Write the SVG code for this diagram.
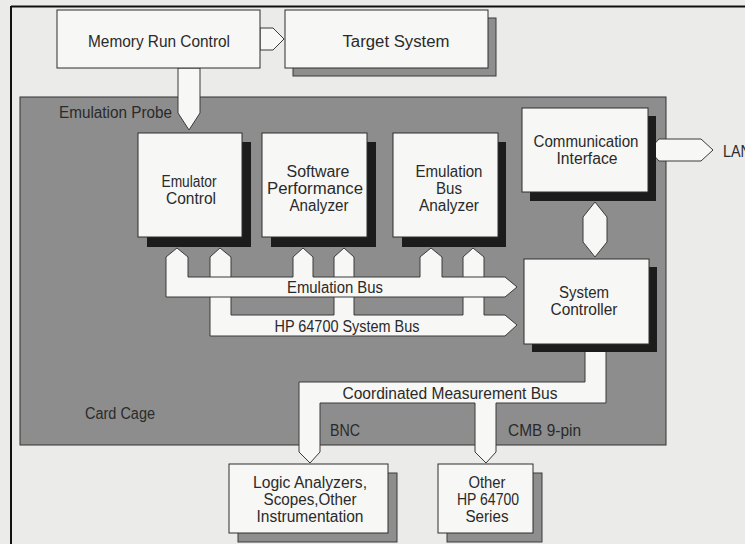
<svg xmlns="http://www.w3.org/2000/svg" width="745" height="544" viewBox="0 0 745 544">
<style>
text{font-family:"Liberation Sans",Arial,sans-serif;font-size:16px;fill:#2a2a2a;text-anchor:middle}
.lbl{text-anchor:start}
.box{fill:#f7f7f5;stroke:#2e2e2e;stroke-width:1}
.sh{fill:#1c1c1c}
.gsh{fill:#8e8e8e;stroke:#3a3a3a;stroke-width:1}
.bus{fill:#f7f7f5;stroke:#3a3a3a;stroke-width:1;stroke-linejoin:miter}
</style>
<rect x="0" y="0" width="745" height="544" fill="#ebebea"/>
<line x1="11" y1="6.5" x2="745" y2="6.5" stroke="#111" stroke-width="2"/>
<line x1="11" y1="6" x2="11" y2="544" stroke="#111" stroke-width="2"/>

<g id="card-cage">
<rect x="20" y="97" width="646" height="348" fill="#8d8d8d" stroke="#333" stroke-width="1"/>
<text class="lbl" x="59" y="118" textLength="113" lengthAdjust="spacingAndGlyphs">Emulation Probe</text>
<text class="lbl" x="85" y="419" textLength="70" lengthAdjust="spacingAndGlyphs">Card Cage</text>
</g>

<g id="connectors">
<polygon class="bus" points="260,28 273,28 284,39 273,50 260,50"/>
<polygon class="bus" points="178,68 200,68 200,113 189,130 178,113"/>
<polygon class="bus" points="649,150 659,139 701,139 713,150 701,161 659,161"/>
<text class="lbl" x="723" y="157" textLength="28" lengthAdjust="spacingAndGlyphs">LAN</text>
<polygon class="bus" points="595,202 607,217 607,242 595,257 583,242 583,217"/>
<polygon class="bus" points="210,336 210,257 220,248 231,257 231,315 334,315 334,257 344,248 354,257 354,315 463,315 463,257 473,248 484,257 484,315 505,315 517,325 505,336"/>
<polygon class="bus" points="166,297 166,257 177,248 188,257 188,277 293,277 293,257 303,248 313,257 313,277 420,277 420,257 431,248 442,257 442,277 505,277 517,287 505,297"/>
<text x="335" y="293" textLength="96" lengthAdjust="spacingAndGlyphs">Emulation Bus</text>
<text x="347" y="332" textLength="145" lengthAdjust="spacingAndGlyphs">HP 64700 System Bus</text>
<polygon class="bus" points="585,350 606,350 606,403 496,403 496,452 486,463 475,452 475,403 320,403 320,452 310,463 299,452 299,382 585,382"/>
<text x="450" y="399" textLength="215" lengthAdjust="spacingAndGlyphs">Coordinated Measurement Bus</text>
<text class="lbl" x="330" y="436" textLength="30" lengthAdjust="spacingAndGlyphs">BNC</text>
<text class="lbl" x="508" y="436" textLength="73" lengthAdjust="spacingAndGlyphs">CMB 9-pin</text>
</g>

<g id="memory-run-control">
<rect class="box" x="57" y="10" width="203" height="58"/>
<text x="159" y="47" textLength="142" lengthAdjust="spacingAndGlyphs">Memory Run Control</text>
</g>

<g id="target-system">
<rect class="gsh" x="293" y="18" width="203" height="58"/>
<rect class="box" x="285" y="10" width="203" height="58"/>
<text x="396" y="47" textLength="107" lengthAdjust="spacingAndGlyphs">Target System</text>
</g>

<g id="emulator-control">
<rect class="sh" x="147" y="142" width="104" height="105"/>
<rect class="box" x="138" y="133" width="104" height="104"/>
<text x="189" y="187" textLength="55" lengthAdjust="spacingAndGlyphs">Emulator</text>
<text x="191" y="204" textLength="50" lengthAdjust="spacingAndGlyphs">Control</text>
</g>

<g id="software-performance-analyzer">
<rect class="sh" x="271" y="142" width="105" height="105"/>
<rect class="box" x="262" y="133" width="105" height="104"/>
<text x="318" y="177" textLength="63" lengthAdjust="spacingAndGlyphs">Software</text>
<text x="315" y="194" textLength="96" lengthAdjust="spacingAndGlyphs">Performance</text>
<text x="319" y="211" textLength="59" lengthAdjust="spacingAndGlyphs">Analyzer</text>
</g>

<g id="emulation-bus-analyzer">
<rect class="sh" x="402" y="142" width="104" height="105"/>
<rect class="box" x="393" y="133" width="105" height="104"/>
<text x="449" y="177" textLength="67" lengthAdjust="spacingAndGlyphs">Emulation</text>
<text x="449" y="194" textLength="26" lengthAdjust="spacingAndGlyphs">Bus</text>
<text x="449" y="211" textLength="60" lengthAdjust="spacingAndGlyphs">Analyzer</text>
</g>

<g id="communication-interface">
<rect class="sh" x="530" y="116" width="126" height="85"/>
<rect class="box" x="522" y="108" width="126" height="84"/>
<text x="586" y="147" textLength="105" lengthAdjust="spacingAndGlyphs">Communication</text>
<text x="587" y="164" textLength="61" lengthAdjust="spacingAndGlyphs">Interface</text>
</g>

<g id="system-controller">
<rect class="sh" x="532" y="267" width="125" height="85"/>
<rect class="box" x="524" y="259" width="125" height="85"/>
<text x="584" y="298" textLength="50" lengthAdjust="spacingAndGlyphs">System</text>
<text x="584" y="315" textLength="67" lengthAdjust="spacingAndGlyphs">Controller</text>
</g>

<g id="logic-analyzers">
<rect class="gsh" x="238" y="473" width="159" height="69"/>
<rect class="box" x="229" y="464" width="159" height="69"/>
<text x="310" y="488" textLength="114" lengthAdjust="spacingAndGlyphs">Logic Analyzers,</text>
<text x="310" y="505" textLength="93" lengthAdjust="spacingAndGlyphs">Scopes,Other</text>
<text x="310" y="522" textLength="107" lengthAdjust="spacingAndGlyphs">Instrumentation</text>
</g>

<g id="other-hp64700">
<rect class="gsh" x="447" y="473" width="95" height="69"/>
<rect class="box" x="438" y="464" width="95" height="69"/>
<text x="487" y="488" textLength="37" lengthAdjust="spacingAndGlyphs">Other</text>
<text x="488" y="505" textLength="62" lengthAdjust="spacingAndGlyphs">HP 64700</text>
<text x="487" y="522" textLength="43" lengthAdjust="spacingAndGlyphs">Series</text>
</g>
</svg>
